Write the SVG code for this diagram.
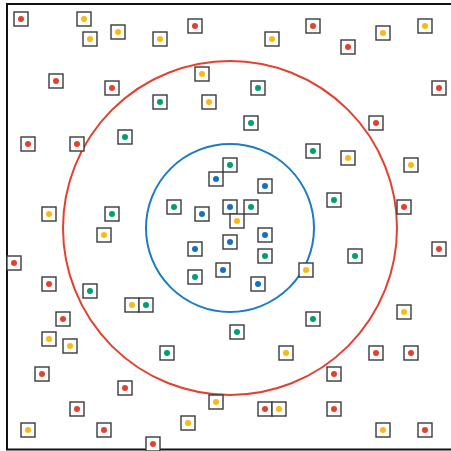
<svg xmlns="http://www.w3.org/2000/svg" width="451" height="451" viewBox="0 0 451 451">
<style>
.b{fill:#fff;stroke:#3a3a3a;stroke-width:1.4}
.r{fill:#e4402f}.y{fill:#fbb911}.g{fill:#009e73}.u{fill:#1570c0}
.ring{fill:none;stroke-width:2}
</style>
<rect x="0" y="0" width="451" height="451" fill="#fff"/>
<rect x="7" y="4" width="460" height="445.5" fill="none" stroke="#111" stroke-width="2"/>
<g id="rings">
<circle class="ring" cx="230" cy="228" r="167" stroke="#e4402f"/>
<circle class="ring" cx="230" cy="228" r="84" stroke="#1a7cc6"/>
</g>
<g id="connectors"></g>
<g id="nodes">
<g id="n1"><rect class="b" x="14" y="12" width="14" height="14"/><circle class="r" cx="21" cy="19" r="3"/></g>
<g id="n2"><rect class="b" x="77" y="12" width="14" height="14"/><circle class="y" cx="84" cy="19" r="3"/></g>
<g id="n3"><rect class="b" x="188" y="19" width="14" height="14"/><circle class="r" cx="195" cy="26" r="3"/></g>
<g id="n4"><rect class="b" x="306" y="19" width="14" height="14"/><circle class="r" cx="313" cy="26" r="3"/></g>
<g id="n5"><rect class="b" x="418" y="19" width="14" height="14"/><circle class="y" cx="425" cy="26" r="3"/></g>
<g id="n6"><rect class="b" x="83" y="32" width="14" height="14"/><circle class="y" cx="90" cy="39" r="3"/></g>
<g id="n7"><rect class="b" x="111" y="25" width="14" height="14"/><circle class="y" cx="118" cy="32" r="3"/></g>
<g id="n8"><rect class="b" x="153" y="32" width="14" height="14"/><circle class="y" cx="160" cy="39" r="3"/></g>
<g id="n9"><rect class="b" x="265" y="32" width="14" height="14"/><circle class="y" cx="272" cy="39" r="3"/></g>
<g id="n10"><rect class="b" x="341" y="40" width="14" height="14"/><circle class="r" cx="348" cy="47" r="3"/></g>
<g id="n11"><rect class="b" x="376" y="26" width="14" height="14"/><circle class="y" cx="383" cy="33" r="3"/></g>
<g id="n12"><rect class="b" x="195" y="67" width="14" height="14"/><circle class="y" cx="202" cy="74" r="3"/></g>
<g id="n13"><rect class="b" x="49" y="74" width="14" height="14"/><circle class="r" cx="56" cy="81" r="3"/></g>
<g id="n14"><rect class="b" x="105" y="81" width="14" height="14"/><circle class="r" cx="112" cy="88" r="3"/></g>
<g id="n15"><rect class="b" x="251" y="81" width="14" height="14"/><circle class="g" cx="258" cy="88" r="3"/></g>
<g id="n16"><rect class="b" x="432" y="81" width="14" height="14"/><circle class="r" cx="439" cy="88" r="3"/></g>
<g id="n17"><rect class="b" x="153" y="95" width="14" height="14"/><circle class="g" cx="160" cy="102" r="3"/></g>
<g id="n18"><rect class="b" x="202" y="95" width="14" height="14"/><circle class="y" cx="209" cy="102" r="3"/></g>
<g id="n19"><rect class="b" x="244" y="116" width="14" height="14"/><circle class="g" cx="251" cy="123" r="3"/></g>
<g id="n20"><rect class="b" x="369" y="116" width="14" height="14"/><circle class="r" cx="376" cy="123" r="3"/></g>
<g id="n21"><rect class="b" x="118" y="130" width="14" height="14"/><circle class="g" cx="125" cy="137" r="3"/></g>
<g id="n22"><rect class="b" x="21" y="137" width="14" height="14"/><circle class="r" cx="28" cy="144" r="3"/></g>
<g id="n23"><rect class="b" x="70" y="137" width="14" height="14"/><circle class="r" cx="77" cy="144" r="3"/></g>
<g id="n24"><rect class="b" x="306" y="144" width="14" height="14"/><circle class="g" cx="313" cy="151" r="3"/></g>
<g id="n25"><rect class="b" x="341" y="151" width="14" height="14"/><circle class="y" cx="348" cy="158" r="3"/></g>
<g id="n26"><rect class="b" x="404" y="158" width="14" height="14"/><circle class="y" cx="411" cy="165" r="3"/></g>
<g id="n27"><rect class="b" x="223" y="158" width="14" height="14"/><circle class="g" cx="230" cy="165" r="3"/></g>
<g id="n28"><rect class="b" x="209" y="172" width="14" height="14"/><circle class="u" cx="216" cy="179" r="3"/></g>
<g id="n29"><rect class="b" x="258" y="179" width="14" height="14"/><circle class="u" cx="265" cy="186" r="3"/></g>
<g id="n30"><rect class="b" x="327" y="193" width="14" height="14"/><circle class="g" cx="334" cy="200" r="3"/></g>
<g id="n31"><rect class="b" x="397" y="200" width="14" height="14"/><circle class="r" cx="404" cy="207" r="3"/></g>
<g id="n32"><rect class="b" x="42" y="207" width="14" height="14"/><circle class="y" cx="49" cy="214" r="3"/></g>
<g id="n33"><rect class="b" x="105" y="207" width="14" height="14"/><circle class="g" cx="112" cy="214" r="3"/></g>
<g id="n34"><rect class="b" x="167" y="200" width="14" height="14"/><circle class="g" cx="174" cy="207" r="3"/></g>
<g id="n35"><rect class="b" x="195" y="207" width="14" height="14"/><circle class="u" cx="202" cy="214" r="3"/></g>
<g id="n36"><rect class="b" x="223" y="200" width="14" height="14"/><circle class="u" cx="230" cy="207" r="3"/></g>
<g id="n37"><rect class="b" x="244" y="200" width="14" height="14"/><circle class="g" cx="251" cy="207" r="3"/></g>
<g id="n38"><rect class="b" x="230" y="214" width="14" height="14"/><circle class="y" cx="237" cy="221" r="3"/></g>
<g id="n39"><rect class="b" x="97" y="228" width="14" height="14"/><circle class="y" cx="104" cy="235" r="3"/></g>
<g id="n40"><rect class="b" x="258" y="228" width="14" height="14"/><circle class="u" cx="265" cy="235" r="3"/></g>
<g id="n41"><rect class="b" x="223" y="235" width="14" height="14"/><circle class="u" cx="230" cy="242" r="3"/></g>
<g id="n42"><rect class="b" x="188" y="242" width="14" height="14"/><circle class="u" cx="195" cy="249" r="3"/></g>
<g id="n43"><rect class="b" x="432" y="242" width="14" height="14"/><circle class="r" cx="439" cy="249" r="3"/></g>
<g id="n44"><rect class="b" x="7" y="256" width="14" height="14"/><circle class="r" cx="14" cy="263" r="3"/></g>
<g id="n45"><rect class="b" x="258" y="249" width="14" height="14"/><circle class="g" cx="265" cy="256" r="3"/></g>
<g id="n46"><rect class="b" x="348" y="249" width="14" height="14"/><circle class="g" cx="355" cy="256" r="3"/></g>
<g id="n47"><rect class="b" x="216" y="263" width="14" height="14"/><circle class="u" cx="223" cy="270" r="3"/></g>
<g id="n48"><rect class="b" x="299" y="263" width="14" height="14"/><circle class="y" cx="306" cy="270" r="3"/></g>
<g id="n49"><rect class="b" x="188" y="270" width="14" height="14"/><circle class="g" cx="195" cy="277" r="3"/></g>
<g id="n50"><rect class="b" x="42" y="277" width="14" height="14"/><circle class="r" cx="49" cy="284" r="3"/></g>
<g id="n51"><rect class="b" x="251" y="277" width="14" height="14"/><circle class="u" cx="258" cy="284" r="3"/></g>
<g id="n52"><rect class="b" x="83" y="284" width="14" height="14"/><circle class="g" cx="90" cy="291" r="3"/></g>
<g id="n53"><rect class="b" x="125" y="298" width="14" height="14"/><circle class="y" cx="132" cy="305" r="3"/></g>
<g id="n54"><rect class="b" x="139" y="298" width="14" height="14"/><circle class="g" cx="146" cy="305" r="3"/></g>
<g id="n55"><rect class="b" x="397" y="305" width="14" height="14"/><circle class="y" cx="404" cy="312" r="3"/></g>
<g id="n56"><rect class="b" x="56" y="312" width="14" height="14"/><circle class="r" cx="63" cy="319" r="3"/></g>
<g id="n57"><rect class="b" x="306" y="312" width="14" height="14"/><circle class="g" cx="313" cy="319" r="3"/></g>
<g id="n58"><rect class="b" x="230" y="325" width="14" height="14"/><circle class="g" cx="237" cy="332" r="3"/></g>
<g id="n59"><rect class="b" x="42" y="332" width="14" height="14"/><circle class="y" cx="49" cy="339" r="3"/></g>
<g id="n60"><rect class="b" x="63" y="339" width="14" height="14"/><circle class="y" cx="70" cy="346" r="3"/></g>
<g id="n61"><rect class="b" x="160" y="346" width="14" height="14"/><circle class="g" cx="167" cy="353" r="3"/></g>
<g id="n62"><rect class="b" x="279" y="346" width="14" height="14"/><circle class="y" cx="286" cy="353" r="3"/></g>
<g id="n63"><rect class="b" x="369" y="346" width="14" height="14"/><circle class="r" cx="376" cy="353" r="3"/></g>
<g id="n64"><rect class="b" x="404" y="346" width="14" height="14"/><circle class="r" cx="411" cy="353" r="3"/></g>
<g id="n65"><rect class="b" x="35" y="367" width="14" height="14"/><circle class="r" cx="42" cy="374" r="3"/></g>
<g id="n66"><rect class="b" x="327" y="367" width="14" height="14"/><circle class="r" cx="334" cy="374" r="3"/></g>
<g id="n67"><rect class="b" x="118" y="381" width="14" height="14"/><circle class="r" cx="125" cy="388" r="3"/></g>
<g id="n68"><rect class="b" x="209" y="395" width="14" height="14"/><circle class="y" cx="216" cy="402" r="3"/></g>
<g id="n69"><rect class="b" x="70" y="402" width="14" height="14"/><circle class="r" cx="77" cy="409" r="3"/></g>
<g id="n70"><rect class="b" x="258" y="402" width="14" height="14"/><circle class="r" cx="265" cy="409" r="3"/></g>
<g id="n71"><rect class="b" x="272" y="402" width="14" height="14"/><circle class="y" cx="279" cy="409" r="3"/></g>
<g id="n72"><rect class="b" x="327" y="402" width="14" height="14"/><circle class="r" cx="334" cy="409" r="3"/></g>
<g id="n73"><rect class="b" x="181" y="416" width="14" height="14"/><circle class="y" cx="188" cy="423" r="3"/></g>
<g id="n74"><rect class="b" x="21" y="423" width="14" height="14"/><circle class="y" cx="28" cy="430" r="3"/></g>
<g id="n75"><rect class="b" x="97" y="423" width="14" height="14"/><circle class="r" cx="104" cy="430" r="3"/></g>
<g id="n76"><rect class="b" x="376" y="423" width="14" height="14"/><circle class="y" cx="383" cy="430" r="3"/></g>
<g id="n77"><rect class="b" x="418" y="423" width="14" height="14"/><circle class="r" cx="425" cy="430" r="3"/></g>
<g id="n78"><rect class="b" x="146" y="437" width="14" height="14"/><circle class="r" cx="153" cy="444" r="3"/></g>
</g>
</svg>
